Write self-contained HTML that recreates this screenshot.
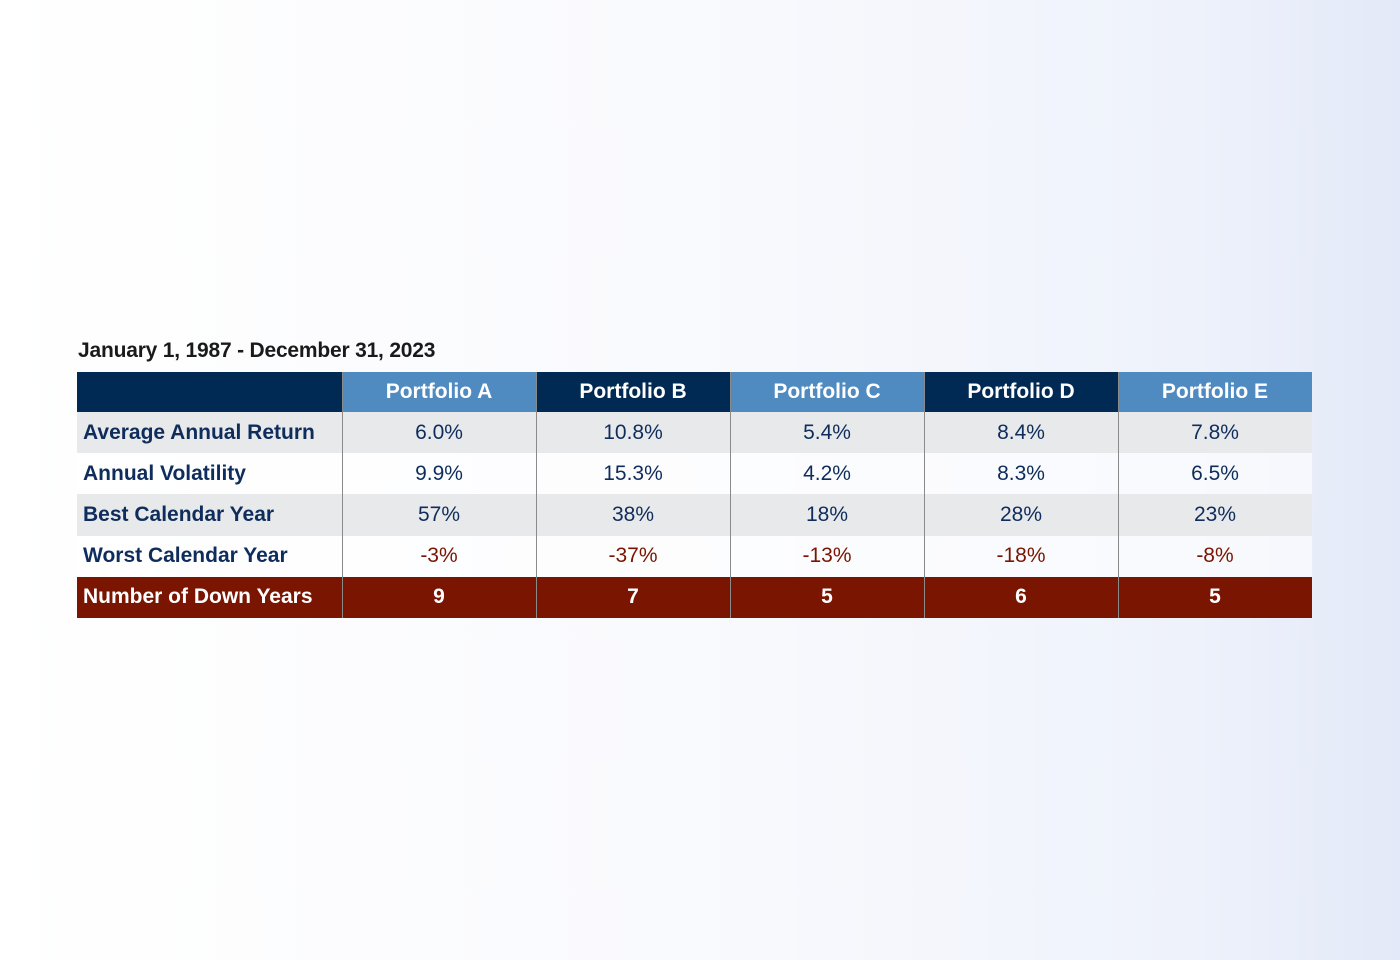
<!DOCTYPE html>
<html><head><meta charset="utf-8"><style>
html,body{margin:0;padding:0}
body{width:1400px;height:960px;position:relative;overflow:hidden;font-family:"Liberation Sans",sans-serif;
background:linear-gradient(90deg,#ffffff 0%,#f8f9fd 55%,#eef2fb 85%,#e3e9f8 100%);}
.t{position:absolute;left:78px;top:339px;font-size:21px;font-weight:bold;color:#1a1a1a;letter-spacing:-0.2px}
.c{position:absolute;box-sizing:border-box;display:flex;align-items:center;justify-content:center;font-size:21px;color:#0f2d5c}
.l{justify-content:flex-start;padding-left:6px;font-weight:bold}
.h{color:#fff;font-weight:bold}
.vl{position:absolute;width:1px;background:#8a8a8a}
</style></head><body>
<div class="t">January 1, 1987 - December 31, 2023</div>
<div id="tbl"></div>
<script>
const portfolios=["Portfolio A","Portfolio B","Portfolio C","Portfolio D","Portfolio E"];
const rowLabels=["Average Annual Return","Annual Volatility","Best Calendar Year","Worst Calendar Year","Number of Down Years"];
const avgReturn=["6.0%","10.8%","5.4%","8.4%","7.8%"];
const volatility=["9.9%","15.3%","4.2%","8.3%","6.5%"];
const bestYear=["57%","38%","18%","28%","23%"];
const worstYear=["-3%","-37%","-13%","-18%","-8%"];
const downYears=["9","7","5","6","5"];
const rows=[avgReturn,volatility,bestYear,worstYear,downYears];
const tbl=document.getElementById('tbl');
const X0=77,LW=265,CW=194,Y0=372,HH=40,RH=41.2;
function cell(x,y,w,h,txt,bg,cls,color){
  const d=document.createElement('div');
  d.className='c '+cls;
  d.style.left=x+'px';d.style.top=y+'px';d.style.width=w+'px';d.style.height=h+'px';
  d.style.background=bg;if(color)d.style.color=color;
  d.textContent=txt;tbl.appendChild(d);return d;
}
let hd=cell(X0,Y0,LW,HH,'','#002a53','h');


portfolios.forEach((p,i)=>{
  const e=cell(X0+LW+i*CW,Y0,CW,HH,p,i%2==0?'#4f8bc0':'#002a53','h');
  
  
});
rows.forEach((r,ri)=>{
  const y=Y0+HH+ri*RH;
  const last=ri==4;
  const bg=last?'#7a1502':(ri%2==0?'#e8e9eb':'rgba(255,255,255,0.6)');
  const lb=cell(X0,y,LW,RH,rowLabels[ri],bg,'l',last?'#fff':'');
  
  
  r.forEach((v,ci)=>{
    const e=cell(X0+LW+ci*CW,y,CW,RH,v,bg,last?'h':'',last?'#fff':(ri==3?'#7a1502':''));
    
    
  });
});
for(let i=0;i<5;i++){
  const v=document.createElement('div');v.className='vl';
  v.style.left=(X0+LW+i*CW)+'px';v.style.top=Y0+'px';v.style.height=(HH+5*RH)+'px';
  
  
  tbl.appendChild(v);
}
</script>
</body></html>
